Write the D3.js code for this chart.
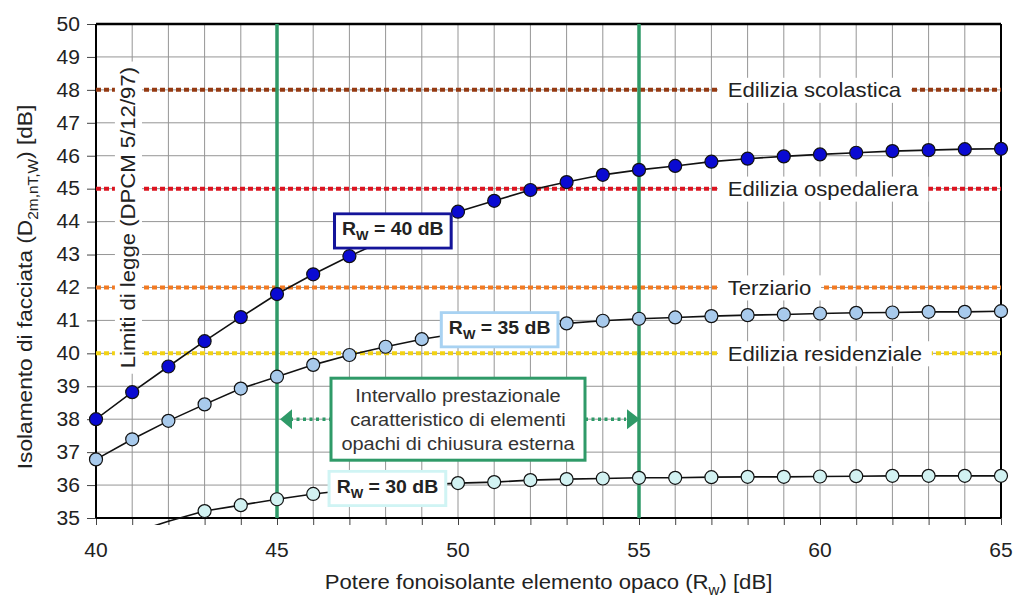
<!DOCTYPE html>
<html>
<head>
<meta charset="utf-8">
<script src="https://cdn.jsdelivr.net/npm/d3@7"></script>
<style>
  body { margin: 0; background: #ffffff; }
  svg { display: block; }
</style>
</head>
<body>
<svg id="chart" width="1016" height="597"></svg>
<script>
// Potere fonoisolante dell'elemento opaco (Rw) [dB]
const rwOpaco = [40, 41, 42, 43, 44, 45, 46, 47, 48, 49, 50, 51, 52, 53, 54, 55, 56, 57, 58, 59, 60, 61, 62, 63, 64, 65];

// Isolamento di facciata D2m,nT,w per tre serramenti (Rw finestra = 40, 35, 30 dB)
const facciata40 = [38.0, 38.82, 39.6, 40.37, 41.1, 41.8, 42.4, 42.95, 43.45, 43.9, 44.3, 44.63, 44.96, 45.2, 45.42, 45.57,
                    45.69, 45.82, 45.91, 45.98, 46.04, 46.09, 46.14, 46.17, 46.2, 46.21];
const facciata35 = [36.78, 37.39, 37.95, 38.45, 38.93, 39.29, 39.65, 39.95, 40.2, 40.43, 40.6, 40.72, 40.83, 40.91, 40.99, 41.05,
                    41.09, 41.13, 41.16, 41.18, 41.21, 41.23, 41.24, 41.26, 41.26, 41.28];
const facciata30 = [34.15, 34.55, 34.9, 35.21, 35.39, 35.57, 35.73, 35.85, 35.93, 36.0, 36.06, 36.09, 36.15, 36.18, 36.2, 36.22,
                    36.22, 36.24, 36.25, 36.25, 36.26, 36.27, 36.28, 36.28, 36.28, 36.28];

const serieNomi = ["40", "35", "30"];
const serieColori = ["#0a0ad2", "#a8caec", "#d2f2f2"];
const serieBordiEtichetta = ["#14149a", "#a8d2f2", "#d0f4f4"];
// posizione (centro) dell'etichetta di ciascuna curva, in unità del grafico
const etichettaX = [48.2, 51.15, 48.05];
const etichettaY = [43.78, 40.78, 35.96];

// Limiti di legge (DPCM 5/12/97)
const limitiNomi = ["Edilizia scolastica", "Edilizia ospedaliera", "Terziario", "Edilizia residenziale"];
const limitiValori = [48, 45, 42, 40];
const limitiColori = ["#953a12", "#dc1420", "#f27a22", "#f2d214"];

// Intervallo tipico degli elementi opachi
const intervallo = [45, 55];
const intervalloTesto = ["Intervallo prestazionale", "caratteristico di elementi", "opachi di chiusura esterna"];

const yTicks = [35, 36, 37, 38, 39, 40, 41, 42, 43, 44, 45, 46, 47, 48, 49, 50];
const xTicks = rwOpaco;
const xTickLabels = [40, 45, 50, 55, 60, 65];

const FONT = "'Liberation Sans', Arial, Helvetica, sans-serif";
const SX = 1.08;           // leggera dilatazione orizzontale dei testi
const TXT = "#222";
const GREEN = "#2f9a68";

const svg = d3.select("#chart");
const x = d3.scaleLinear().domain([40, 65]).range([96, 1001]);
const y = d3.scaleLinear().domain([35, 50]).range([518, 24]);

// Testo con eventuali pedici: parts = [{t, sub}]
function testo(parent, px, py, parts, size, opt = {}) {
  const rot = opt.rotate ? ` rotate(${opt.rotate})` : "";
  const g = parent.append("g").attr("transform", `translate(${px},${py})${rot} scale(${SX},1)`);
  const t = g.append("text")
    .attr("font-family", FONT)
    .attr("font-size", size)
    .attr("font-weight", opt.bold ? "bold" : "normal")
    .attr("fill", opt.fill || TXT)
    .attr("text-anchor", opt.anchor || "middle")
    .attr("y", size * 0.35);
  let shifted = false;
  const subShift = size * 0.28;
  (typeof parts === "string" ? [{ t: parts }] : parts).forEach(p => {
    const ts = t.append("tspan").text(p.t);
    if (p.sub) {
      ts.attr("font-size", size * 0.68).attr("dy", shifted ? 0 : subShift);
      shifted = true;
    } else if (shifted) {
      ts.attr("dy", -subShift);
      shifted = false;
    }
  });
  if (opt.bg) {
    const b = t.node().getBBox();
    const padX = opt.padX ?? 4, padY = opt.padY ?? 2;
    g.insert("rect", "text")
      .attr("x", b.x - padX).attr("y", b.y - padY)
      .attr("width", b.width + 2 * padX).attr("height", b.height + 2 * padY)
      .attr("fill", "#fff")
      .attr("stroke", opt.border || "none")
      .attr("stroke-width", opt.borderWidth || 0);
  }
  return g;
}

// ---- griglia ----
const grid = svg.append("g").attr("stroke", "#959595").attr("stroke-width", 1);
grid.selectAll("line.h").data(yTicks).join("line")
  .attr("x1", x(40)).attr("x2", x(65))
  .attr("y1", d => y(d)).attr("y2", d => y(d));
grid.selectAll("line.v").data(xTicks).join("line")
  .attr("x1", d => x(d)).attr("x2", d => x(d))
  .attr("y1", y(35)).attr("y2", y(50));

// ---- assi ----
const yAxis = d3.axisLeft(y).tickValues(yTicks).tickSize(9).tickFormat(d3.format("d"));
const gy = svg.append("g").attr("transform", `translate(${x(40)},0)`).call(yAxis);
gy.select(".domain").remove();
gy.selectAll(".tick line").attr("stroke", "#444").attr("stroke-width", 1);
gy.selectAll(".tick text").remove();
yTicks.forEach(v => testo(gy, -16, y(v), String(v), 19.5, { anchor: "end" }));

const xAxis = d3.axisBottom(x).tickValues(xTicks).tickSize(7).tickFormat("");
const gx = svg.append("g").attr("transform", `translate(0,${y(35)})`).call(xAxis);
gx.select(".domain").remove();
gx.selectAll(".tick line").attr("stroke", "#444").attr("stroke-width", 1);
xTickLabels.forEach(v => testo(gx, x(v), 32, String(v), 19.5));

// cornice del grafico
const frame = svg.append("g").attr("stroke", "#000").attr("fill", "none");
frame.append("line").attr("x1", x(40)).attr("x2", x(65)).attr("y1", y(50)).attr("y2", y(50)).attr("stroke-width", 2.5);
frame.append("line").attr("x1", x(65)).attr("x2", x(65)).attr("y1", y(50)).attr("y2", y(35)).attr("stroke-width", 2);
frame.append("line").attr("x1", x(40)).attr("x2", x(40)).attr("y1", y(50)).attr("y2", y(35)).attr("stroke-width", 2);
frame.append("line").attr("x1", x(40)).attr("x2", x(65)).attr("y1", y(35)).attr("y2", y(35)).attr("stroke-width", 2);

// ---- limiti di legge (linee punteggiate) ----
const lim = svg.append("g");
limitiValori.forEach((v, i) => {
  lim.append("line")
    .attr("x1", x(40)).attr("x2", x(65))
    .attr("y1", y(v)).attr("y2", y(v))
    .attr("stroke", limitiColori[i])
    .attr("stroke-width", 4)
    .attr("stroke-dasharray", "5,3");
  testo(lim, x(57.45), y(v), limitiNomi[i], 20.5, { anchor: "start", bg: true, padX: 9, padY: 1 });
});
testo(lim, 128, y(44.12), "Limiti di legge (DPCM 5/12/97)", 20.5, { rotate: -90, bg: true, padX: 5, padY: 2 });

// ---- intervallo 45–55 ----
const ivl = svg.append("g");
intervallo.forEach(v => {
  ivl.append("line")
    .attr("x1", x(v)).attr("x2", x(v))
    .attr("y1", y(50)).attr("y2", y(35))
    .attr("stroke", GREEN).attr("stroke-width", 3.5);
});

// ---- curve ----
const clipId = "areaGrafico";
svg.append("clipPath").attr("id", clipId)
  .append("rect").attr("x", x(40)).attr("y", y(50)).attr("width", x(65) - x(40)).attr("height", y(35) - y(50) + 7);

const serie = [facciata40, facciata35, facciata30];
const linea = d3.line().x(d => x(d[0])).y(d => y(d[1]));
const curve = svg.append("g");
serie.forEach((vals, i) => {
  const pts = rwOpaco.map((r, k) => [r, vals[k]]);
  curve.append("path")
    .attr("d", linea(pts))
    .attr("fill", "none")
    .attr("stroke", "#111")
    .attr("stroke-width", 1.6)
    .attr("clip-path", `url(#${clipId})`);
  curve.append("g").selectAll("circle")
    .data(pts.filter(p => p[1] >= 35))
    .join("circle")
    .attr("cx", d => x(d[0])).attr("cy", d => y(d[1]))
    .attr("r", 6.5)
    .attr("fill", serieColori[i])
    .attr("stroke", "#111")
    .attr("stroke-width", 1.2);
});

// ---- box dell'intervallo con frecce ----
const boxCx = x(50), boxCy = y(38);
const boxW = 254, boxH = 82;
const boxG = svg.append("g");
const arrowY = y(38);
// tratti punteggiati
boxG.append("line").attr("x1", x(45) + 13).attr("x2", boxCx - boxW / 2)
  .attr("y1", arrowY).attr("y2", arrowY)
  .attr("stroke", GREEN).attr("stroke-width", 3.5).attr("stroke-dasharray", "3,3.5");
boxG.append("line").attr("x1", boxCx + boxW / 2).attr("x2", x(55) - 13)
  .attr("y1", arrowY).attr("y2", arrowY)
  .attr("stroke", GREEN).attr("stroke-width", 3.5).attr("stroke-dasharray", "3,3.5");
// punte
boxG.append("path")
  .attr("d", `M${x(45) + 3},${arrowY} L${x(45) + 15},${arrowY - 10} L${x(45) + 15},${arrowY + 10} Z`)
  .attr("fill", GREEN);
boxG.append("path")
  .attr("d", `M${x(55) + 1},${arrowY} L${x(55) - 12},${arrowY - 10} L${x(55) - 12},${arrowY + 10} Z`)
  .attr("fill", GREEN);
boxG.append("rect")
  .attr("x", boxCx - boxW / 2).attr("y", boxCy - boxH / 2)
  .attr("width", boxW).attr("height", boxH)
  .attr("fill", "#fff").attr("stroke", GREEN).attr("stroke-width", 3);
intervalloTesto.forEach((t, k) => {
  testo(boxG, boxCx, boxCy + (k - 1) * 24, t, 18.5, { fill: "#333" });
});

// ---- etichette delle curve ----
const lab = svg.append("g");
serieNomi.forEach((n, i) => {
  testo(lab, x(etichettaX[i]), y(etichettaY[i]),
    [{ t: "R" }, { t: "W", sub: true }, { t: ` = ${n} dB` }], 18,
    { bold: true, bg: true, padX: 7, padY: 5, border: serieBordiEtichetta[i], borderWidth: 2.8 });
});

// ---- titoli degli assi ----
testo(svg, (x(40) + x(65)) / 2, 582,
  [{ t: "Potere fonoisolante elemento opaco (R" }, { t: "w", sub: true }, { t: ") [dB]" }], 20.5);
testo(svg, 25, 287,
  [{ t: "Isolamento di facciata (D" }, { t: "2m,nT,W", sub: true }, { t: ") [dB]" }], 21,
  { rotate: -90 });
</script>
</body>
</html>
